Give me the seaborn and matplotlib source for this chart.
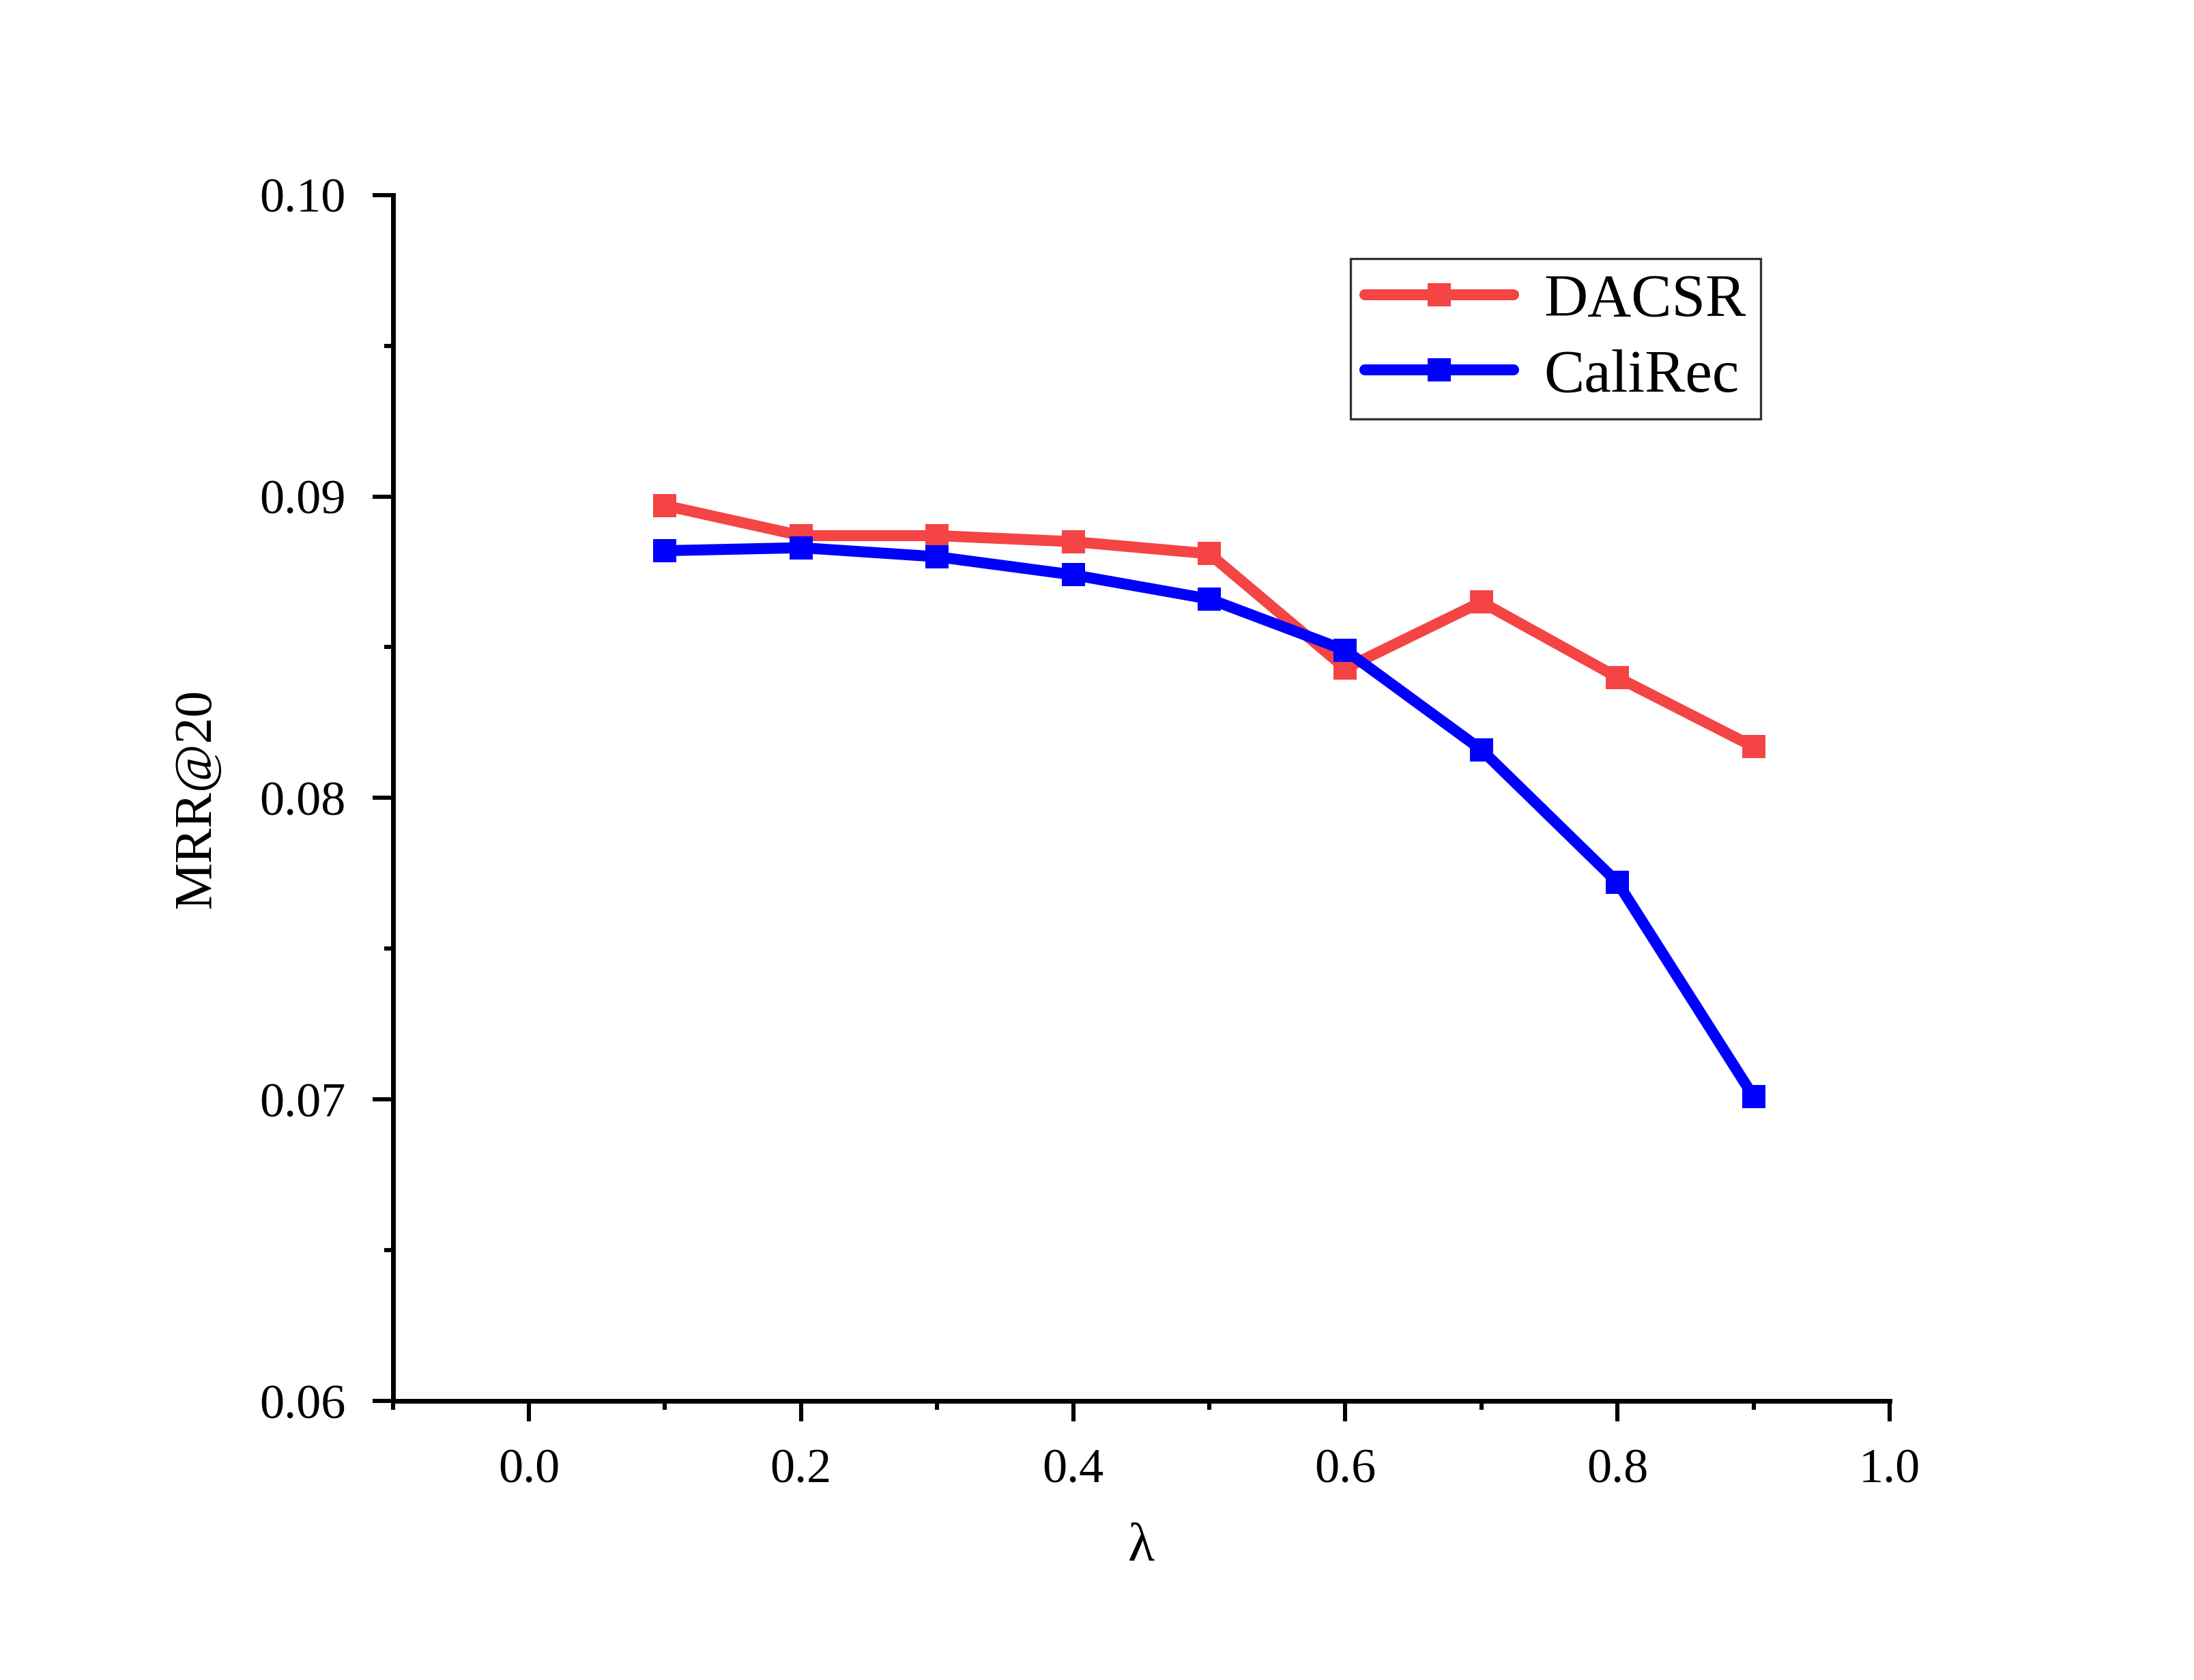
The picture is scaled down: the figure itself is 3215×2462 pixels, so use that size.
import matplotlib
matplotlib.use("Agg")
import matplotlib.pyplot as plt
import seaborn as sns
import pandas as pd
from matplotlib.ticker import MultipleLocator, FixedLocator, FuncFormatter

# ---- data ----
lambdas = [0.1, 0.2, 0.3, 0.4, 0.5, 0.6, 0.7, 0.8, 0.9]
dacsr = [0.0897, 0.0887, 0.0887, 0.0885, 0.0881, 0.0843, 0.0865, 0.0840, 0.0817]
calirec = [0.0882, 0.0883, 0.0880, 0.0874, 0.0866, 0.0849, 0.0816, 0.0772, 0.0701]
series_names = ["DACSR", "CaliRec"]
series_colors = ["#F44444", "#0000FF"]
x_ticks = [0.0, 0.2, 0.4, 0.6, 0.8, 1.0]
y_ticks = [0.06, 0.07, 0.08, 0.09, 0.10]

df = pd.DataFrame({
    "lambda": lambdas * 2,
    "value": dacsr + calirec,
    "model": [series_names[0]] * len(lambdas) + [series_names[1]] * len(lambdas),
})

sns.set_theme(style="white")
plt.rcParams["font.family"] = ["Liberation Serif", "DejaVu Serif"]
plt.rcParams["text.color"] = "black"
plt.rcParams["axes.labelcolor"] = "black"
plt.rcParams["xtick.color"] = "black"
plt.rcParams["ytick.color"] = "black"

fig = plt.figure(figsize=(16.08, 12.31), dpi=200)
ax = fig.add_axes([0.179, 0.166, 0.682, 0.718])

for name, col in zip(series_names, series_colors):
    sub = df[df["model"] == name]
    sns.lineplot(data=sub, x="lambda", y="value", ax=ax, color=col, label=name,
                 marker="s", markersize=12.5, markeredgewidth=0, linewidth=5.8,
                 solid_capstyle="round", solid_joinstyle="miter")

ax.set_xlim(-0.1, 1.0)
ax.set_ylim(0.06, 0.10)
ax.xaxis.set_major_locator(FixedLocator(x_ticks))
ax.xaxis.set_minor_locator(MultipleLocator(0.1))
ax.yaxis.set_major_locator(FixedLocator(y_ticks))
ax.yaxis.set_minor_locator(MultipleLocator(0.005))
ax.xaxis.set_major_formatter(FuncFormatter(lambda v, p: f"{v:.1f}"))
ax.yaxis.set_major_formatter(FuncFormatter(lambda v, p: f"{v:.2f}"))

for s in ["top", "right"]:
    ax.spines[s].set_visible(False)
for s in ["left", "bottom"]:
    ax.spines[s].set_visible(True)
    ax.spines[s].set_color("black")
    ax.spines[s].set_linewidth(2.5)

ax.tick_params(axis="both", which="major", direction="out", length=10.8, width=2.2,
               color="black", labelcolor="black", labelsize=26, pad=14,
               left=True, bottom=True)
ax.tick_params(axis="both", which="minor", direction="out", length=4.7, width=2.2,
               color="black", left=True, bottom=True)

ax.set_xlabel("λ", fontsize=29, labelpad=16, color="black")
ax.set_ylabel("MRR@20", fontsize=28, labelpad=20, color="black")
ax.grid(False)

leg = ax.legend(loc="upper left", bbox_to_anchor=(0.6154, 0.846),
                bbox_transform=fig.transFigure, fontsize=32, frameon=True,
                fancybox=False, edgecolor="black", handlelength=2.45,
                handletextpad=0.5, borderaxespad=0, labelspacing=0.33,
                borderpad=0.24)
leg.get_frame().set_linewidth(1.2)
for t in leg.get_texts():
    t.set_color("black")

fig.savefig("out.png", dpi=200, facecolor="white")
